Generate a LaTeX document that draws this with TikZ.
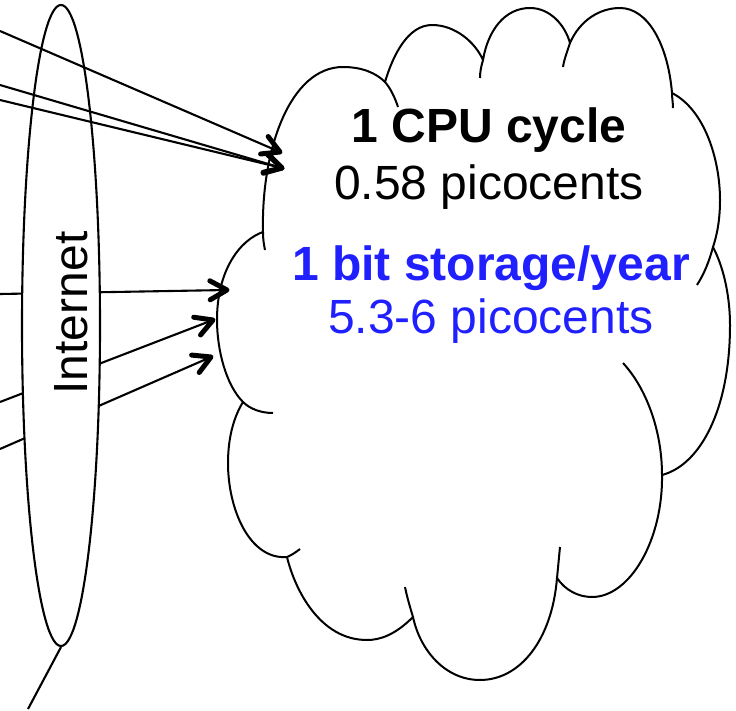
\documentclass[tikz,border=0pt]{standalone}
\usepackage{fontspec}
\setmainfont{Liberation Sans}
\usetikzlibrary{calc}
\usetikzlibrary{shapes.geometric}
\definecolor{storeblue}{RGB}{32,32,255}
\tikzset{link/.style = {line width=2.1pt},
  barb/.style = {line width=5pt, line cap=round, line join=round},
  puff/.style = {line width=2pt, line join=round},
  big/.style = {font=\fontsize{48}{57}\selectfont, inner sep=0pt, anchor=base}}

\begin{document}
\begin{tikzpicture}[x=1pt, y=-1pt]
  \useasboundingbox (0,0) rectangle (736,711);
  % free ends
  \coordinate (src1) at (0,31);
  \coordinate (src2) at (0,85);
  \coordinate (src3) at (0,100);
  \coordinate (src4) at (0,294);
  \coordinate (src5) at (0,402);
  \coordinate (src6) at (0,449);
  \coordinate (tail) at (28,709);
  \coordinate (in1) at (280,152);
  \coordinate (in2) at (282,168);
  \coordinate (in3) at (227,290);
  \coordinate (in4) at (213,320);
  \coordinate (in5) at (211,357);
  % cloud
  \draw [puff] (263,232) .. controls (261,150) and (290,67) .. (343,67)
    .. controls (362,67) and (376,73) .. (385,82)
    .. controls (393,55) and (408,25) .. (432,25)
    .. controls (455,25) and (475,42) .. (483,60)
    .. controls (488,30) and (505,8) .. (530,8)
    .. controls (550,8) and (565,25) .. (570,43)
    .. controls (580,20) and (600,8) .. (620,8)
    .. controls (648,8) and (668,45) .. (672,93)
    .. controls (705,110) and (720,160) .. (720,200)
    .. controls (720,220) and (717,235) .. (713,247)
    .. controls (725,270) and (730,300) .. (730,325)
    .. controls (730,410) and (700,465) .. (662,475)
    .. controls (663,540) and (630,597) .. (592,597)
    .. controls (578,597) and (565,590) .. (557,578)
    .. controls (552,640) and (520,680) .. (480,680)
    .. controls (445,680) and (420,650) .. (413,617)
    .. controls (395,635) and (380,640) .. (367,640)
    .. controls (320,640) and (295,590) .. (287,557)
    .. controls (250,560) and (228,510) .. (228,463)
    .. controls (228,435) and (235,415) .. (243,402)
    .. controls (226,385) and (217,350) .. (217,320)
    .. controls (217,270) and (240,240) .. cycle;
  \draw [puff] (263,232) .. controls (263,240) and (264,245) .. (265,250);
  \draw [puff] (385,82) .. controls (391,89) and (395,98) .. (398,107);
  \draw [puff] (483,60) .. controls (481,67) and (480,72) .. (480,78);
  \draw [puff] (570,43) .. controls (567,52) and (564,60) .. (563,67);
  \draw [puff] (672,93) .. controls (672,98) and (673,103) .. (673,108);
  \draw [puff] (713,247) .. controls (709,262) and (704,274) .. (697,285);
  \draw [puff] (662,475) .. controls (662,430) and (646,388) .. (623,363);
  \draw [puff] (557,578) .. controls (558,568) and (559,557) .. (560,547);
  \draw [puff] (413,617) .. controls (410,607) and (407,597) .. (405,587);
  \draw [puff] (287,557) .. controls (292,555) and (296,552) .. (300,549);
  \draw [puff] (243,402) .. controls (250,409) and (261,413) .. (273,413);
  % nodes
  \node [big] (cpu) at (489,143) {\bfseries 1 CPU cycle};
  \node [big] (cpucost) at (489,200) {0.58 picocents};
  \node [big, text=storeblue] (store) at (491,280) {\bfseries 1 bit storage/year};
  \node [big, text=storeblue] (storecost) at (491,333) {5.3-6 picocents};
  % paths behind the internet
  \draw [link] (src4) -- (in3);
  \draw [link] (src5) -- (in4);
  \draw [link] (src6) -- (in5);
  \node [ellipse, draw, fill=white, link, minimum width=78pt, minimum height=641pt,
    inner sep=0pt] (net) at (61,325.5) {};
  \node [big, rotate=90] (nettext) at (87,313) {Internet};
  % paths over the internet
  \draw [link] (src1) -- (in1);
  \draw [link] (src2) -- (in2);
  \draw [link] (src3) -- (in2);
  \draw [link] (net.south) -- (tail);
  % arrow heads
  \draw [barb] ($(in1)!17pt!(src1)!9.5pt!90:(in1)$) -- (in1) -- ($(in1)!17pt!(src1)!9.5pt!-90:(in1)$);
  \draw [barb] ($(in2)!17pt!(src2)!9.5pt!90:(in2)$) -- (in2) -- ($(in2)!17pt!(src2)!9.5pt!-90:(in2)$);
  \draw [barb] ($(in2)!17pt!(src3)!9.5pt!90:(in2)$) -- (in2) -- ($(in2)!17pt!(src3)!9.5pt!-90:(in2)$);
  \draw [barb] ($(in3)!17pt!(src4)!9.5pt!90:(in3)$) -- (in3) -- ($(in3)!17pt!(src4)!9.5pt!-90:(in3)$);
  \draw [barb] ($(in4)!17pt!(src5)!9.5pt!90:(in4)$) -- (in4) -- ($(in4)!17pt!(src5)!9.5pt!-90:(in4)$);
  \draw [barb] ($(in5)!17pt!(src6)!9.5pt!90:(in5)$) -- (in5) -- ($(in5)!17pt!(src6)!9.5pt!-90:(in5)$);
\end{tikzpicture}
\end{document}
